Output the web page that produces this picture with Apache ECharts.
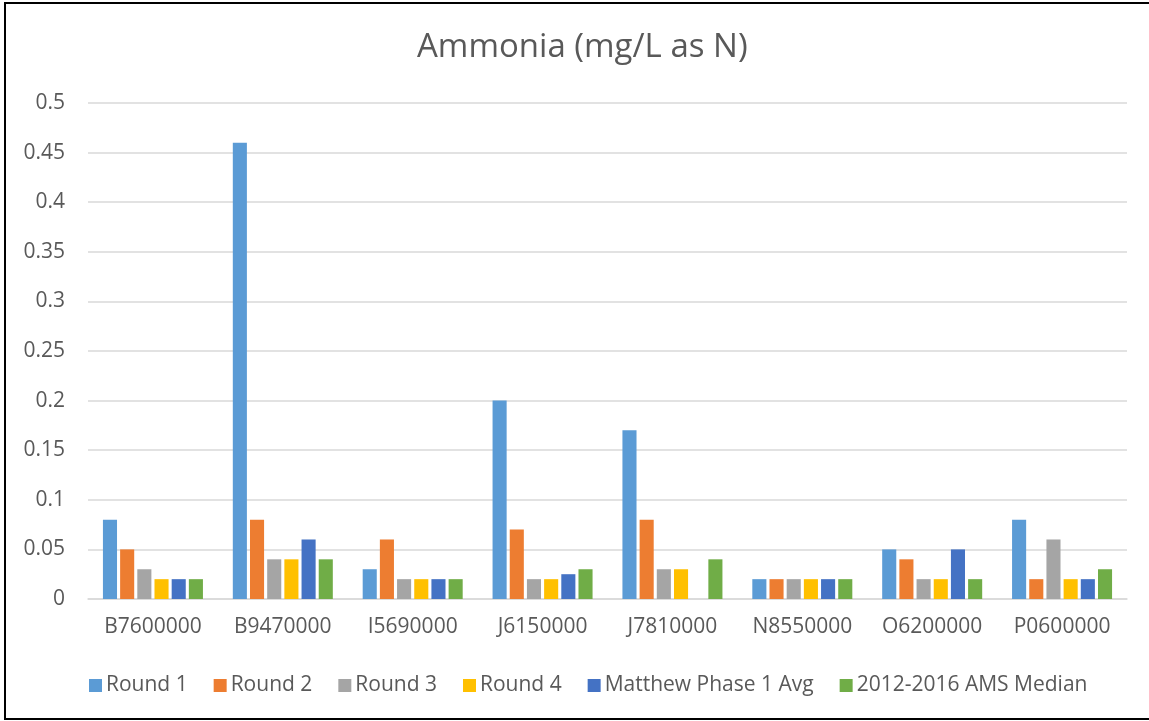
<!DOCTYPE html>
<html><head><meta charset="utf-8">
<script src="https://cdn.jsdelivr.net/npm/echarts@6/dist/echarts.min.js"></script>
<style>html,body{margin:0;padding:0;background:#fff}#c{width:1149px;height:721px}</style>
</head><body><div id="c"></div>
<script>
const categories = ['B7600000','B9470000','I5690000','J6150000','J7810000','N8550000','O6200000','P0600000'];
const round1 = [0.08,0.46,0.03,0.2,0.17,0.02,0.05,0.08];
const round2 = [0.05,0.08,0.06,0.07,0.08,0.02,0.04,0.02];
const round3 = [0.03,0.04,0.02,0.02,0.03,0.02,0.02,0.06];
const round4 = [0.02,0.04,0.02,0.02,0.03,0.02,0.02,0.02];
const matthew = [0.02,0.06,0.02,0.025,null,0.02,0.05,0.02];
const median = [0.02,0.04,0.02,0.03,0.04,0.02,0.02,0.03];
const seriesNames = ['Round 1','Round 2','Round 3','Round 4','Matthew Phase 1 Avg','2012-2016 AMS Median'];
const colors = ['#5B9BD5','#ED7D31','#A5A5A5','#FFC000','#4472C4','#70AD47'];
const dataSets = [round1,round2,round3,round4,matthew,median];
const font = '"Open Sans", "Liberation Sans", sans-serif';
const chart = echarts.init(document.getElementById('c'));
chart.setOption({
  animation:false,
  color:colors,
  title:{text:'Ammonia (mg/L as N)',left:412,top:26,textStyle:{fontFamily:font,fontSize:33,fontWeight:'normal',color:'#595959'}},
  legend:{bottom:20,left:84,itemWidth:13,itemHeight:13,itemGap:26,icon:'rect',
    textStyle:{fontFamily:font,fontSize:21,color:'#595959',padding:[0,0,0,-1]},data:seriesNames},
  grid:{left:88,right:22,top:103,bottom:122,containLabel:false},
  xAxis:{type:'category',data:categories,axisLine:{lineStyle:{color:'#D9D9D9',width:1.5}},axisTick:{show:false},
    axisLabel:{interval:0,hideOverlap:false,fontFamily:font,fontSize:21,color:'#595959',margin:18}},
  yAxis:{type:'value',min:0,max:0.5,interval:0.05,axisLine:{show:false},axisTick:{show:false},
    splitLine:{lineStyle:{color:'#D9D9D9',width:1.5}},
    axisLabel:{fontFamily:font,fontSize:21,color:'#595959',margin:23}},
  series:dataSets.map((d,i)=>({name:seriesNames[i],type:'bar',data:d,barGap:'22%',barCategoryGap:'23%',
    itemStyle:{color:colors[i]}})),
  graphic:[{type:'rect',silent:true,shape:{x:5,y:3,width:1160,height:716},style:{fill:'none',stroke:'#000',lineWidth:2}}]
});
</script></body></html>
